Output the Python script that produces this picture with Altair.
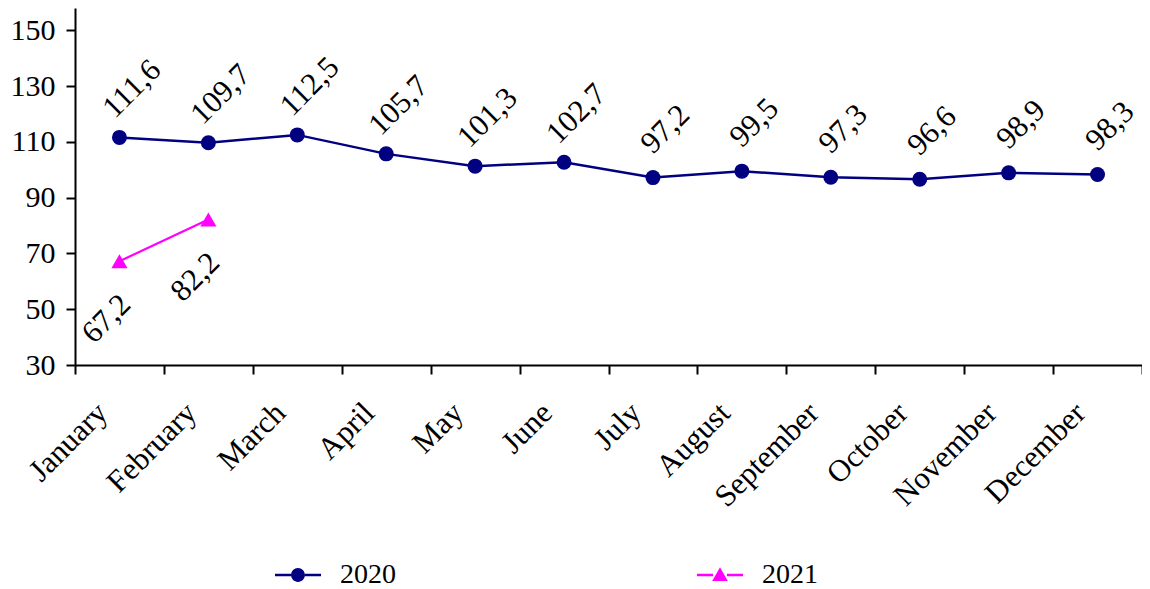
import altair as alt
import pandas as pd

months = ["January", "February", "March", "April", "May", "June", "July",
          "August", "September", "October", "November", "December"]
values_2020 = [111.6, 109.7, 112.5, 105.7, 101.3, 102.7, 97.2, 99.5, 97.3, 96.6, 98.9, 98.3]
months_2021 = ["January", "February"]
values_2021 = [67.2, 82.2]
years = ["2020", "2021"]
colors = ["#000080", "#FF00FF"]
y_ticks = [30, 50, 70, 90, 110, 130, 150]

def lab(v):
    return f"{v:.1f}".replace(".", ",")

d20 = pd.DataFrame({"month": months, "value": values_2020, "year": "2020",
                    "label": [lab(v) for v in values_2020]})
d21 = pd.DataFrame({"month": months_2021, "value": values_2021, "year": "2021",
                    "label": [lab(v) for v in values_2021]})
dall = pd.concat([d20, d21], ignore_index=True)

FONT = "Liberation Serif"

x_enc = alt.X("month:N", sort=months,
              scale=alt.Scale(type="band", domain=months, paddingInner=0, paddingOuter=0),
              axis=alt.Axis(title=None, labelAngle=-45, labelAlign="right", labelBaseline="middle",
                            labelFont=FONT, labelFontSize=31, labelColor="black",
                            labelPadding=34, labelOffset=-17,
                            tickBand="extent", tickSize=9, tickColor="black",
                            tickWidth=2, domainColor="black", domainWidth=2, grid=False,
                            labelOverlap=False))
y_enc = alt.Y("value:Q",
              scale=alt.Scale(domain=[30, 158], nice=False, zero=False),
              axis=alt.Axis(title=None, values=y_ticks, labelFont=FONT, labelFontSize=30,
                            labelColor="black", labelPadding=11, tickSize=9, tickColor="black",
                            tickWidth=2, domainColor="black", domainWidth=2, grid=False))

line20 = alt.Chart(d20).mark_line(color=colors[0], strokeWidth=2.5).encode(x=x_enc, y=y_enc)
pts20 = alt.Chart(d20).mark_point(shape="circle", filled=True, color=colors[0], size=225,
                                  opacity=1).encode(x=x_enc, y=y_enc)
txt20 = alt.Chart(d20).mark_text(angle=315, align="center", baseline="middle", dx=43, dy=-25,
                                 font=FONT, fontSize=31, color="black").encode(
    x=x_enc, y=y_enc, text="label:N")

line21 = alt.Chart(d21).mark_line(color=colors[1], strokeWidth=2.2).encode(x=x_enc, y=y_enc)
pts21 = alt.Chart(d21).mark_point(shape="triangle-up", filled=True, color=colors[1], size=260,
                                  opacity=1).encode(x=x_enc, y=y_enc)
txt21 = alt.Chart(d21).mark_text(angle=315, align="center", baseline="middle", dx=-50, dy=32,
                                 font=FONT, fontSize=31, color="black").encode(
    x=x_enc, y=y_enc, text="label:N")

circle_path = ("M-1,-0.05H-0.3V0.05H-1Z M0.3,-0.05H1V0.05H0.3Z "
               "M-0.3,0A0.3,0.3 0 1,0 0.3,0A0.3,0.3 0 1,0 -0.3,0Z")
tri_path = ("M-1,-0.05H-0.3V0.05H-1Z M0.3,-0.05H1V0.05H0.3Z "
            "M0,-0.34L0.34,0.26L-0.34,0.26Z")

legend_layer = alt.Chart(dall).mark_point(filled=True, size=0, opacity=1).encode(
    x=x_enc, y=y_enc,
    color=alt.Color("year:N", scale=alt.Scale(domain=years, range=colors),
                    legend=alt.Legend(title=None, orient="none", legendX=200, legendY=544,
                                      direction="horizontal", symbolOpacity=1,
                                      symbolSize=2116, symbolStrokeWidth=0,
                                      labelFont=FONT, labelFontSize=28, labelColor="black",
                                      labelOffset=19, columnPadding=301, padding=0)),
    shape=alt.Shape("year:N", scale=alt.Scale(domain=years, range=[circle_path, tri_path]))
)

chart = alt.layer(line20, line21, pts20, pts21, txt20, txt21, legend_layer).properties(
    width=1067, height=357,
    autosize=alt.AutoSizeParams(type="none"),
    padding={"left": 67, "top": 0, "right": 0, "bottom": 224},
).configure_view(stroke=None)

chart.save("out.html", embed_options={"renderer": "svg", "actions": False})
